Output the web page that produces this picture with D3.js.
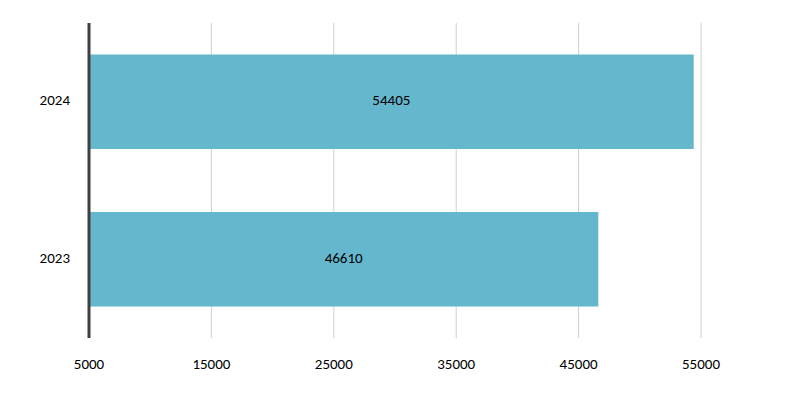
<!DOCTYPE html>
<html><head><meta charset="utf-8">
<script src="https://cdn.jsdelivr.net/npm/d3@7"></script>
<style>body{margin:0;background:#fff}text{font-family:Carlito,Calibri,"Liberation Sans",sans-serif;font-size:15px;fill:#000}</style>
</head><body><div id="chart"></div>
<script>
const years = ['2024', '2023'];
const values = [54405, 46610];
const ticks = [5000, 15000, 25000, 35000, 45000, 55000];

const width = 794, height = 407;
const svg = d3.select('#chart').append('svg').attr('width', width).attr('height', height);

const x = d3.scaleLinear().domain([5000, 55000]).range([89, 701]);
const y = d3.scaleBand().domain(years).range([23, 338]).paddingInner(0.4).paddingOuter(0.2);

// gridlines
svg.selectAll('.grid').data(ticks.slice(1)).join('line')
    .attr('x1', d => x(d)).attr('x2', d => x(d))
    .attr('y1', 23).attr('y2', 338)
    .attr('stroke', '#d0d0d0').attr('stroke-width', 1);

// bars
svg.selectAll('.bar').data(values).join('rect')
    .attr('x', x(5000))
    .attr('y', (d, i) => y(years[i]))
    .attr('width', d => x(d) - x(5000))
    .attr('height', y.bandwidth())
    .attr('fill', '#65b7cd');

// value labels
svg.selectAll('.val').data(values).join('text')
    .attr('x', d => (x(5000) + x(d)) / 2)
    .attr('y', (d, i) => y(years[i]) + y.bandwidth() / 2)
    .attr('text-anchor', 'middle').attr('dominant-baseline', 'middle')
    .text(d => d);

// category labels
svg.selectAll('.cat').data(years).join('text')
    .attr('x', 70).attr('y', d => y(d) + y.bandwidth() / 2)
    .attr('text-anchor', 'end').attr('dominant-baseline', 'middle')
    .text(d => d);

// tick labels
svg.selectAll('.tick').data(ticks).join('text')
    .attr('x', d => x(d)).attr('y', 365)
    .attr('text-anchor', 'middle').attr('dominant-baseline', 'middle')
    .text(d => d);

// axis line
svg.append('line').attr('x1', 89).attr('x2', 89).attr('y1', 23).attr('y2', 338)
    .attr('stroke', '#404040').attr('stroke-width', 3);
</script></body></html>
